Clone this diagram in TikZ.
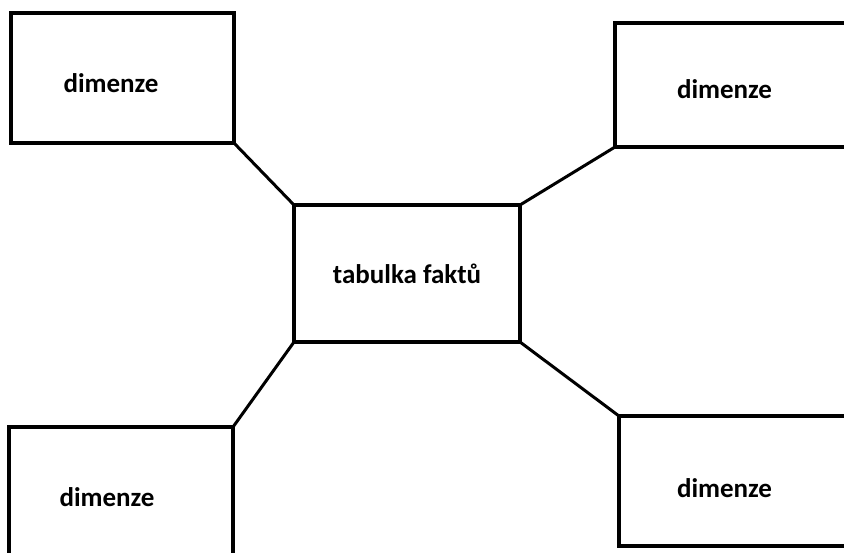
\documentclass[tikz,border=0pt]{standalone}
\usepackage{fontspec}
\setmainfont{Carlito}

\begin{document}
\begin{tikzpicture}[x=1pt, y=-1pt,
	box/.style={draw, line width=3.2pt, inner sep=0pt, outer sep=0pt},
	lbl/.style={font=\fontsize{27}{32}\selectfont\bfseries, inner sep=0pt},
	link/.style={line width=3pt, line cap=round}]
	\clip (0,0) rectangle (844,552);
	\fill[white] (0,0) rectangle (844,552);

	\node[box, lbl, minimum width=226, minimum height=137] (fakty) at (407,273.5) {tabulka faktů};

	\node[box, minimum width=223, minimum height=130] (dimA) at (122.5,78) {};
	\node[lbl] (txtA) at (111,83) {dimenze};

	\node[box, minimum width=255, minimum height=124] (dimB) at (742.5,85) {};
	\node[lbl] (txtB) at (724.5,89.5) {dimenze};

	\node[box, minimum width=224, minimum height=153] (dimC) at (121,503.5) {};
	\node[lbl] (txtC) at (107,497.5) {dimenze};

	\node[box, minimum width=251, minimum height=130] (dimD) at (744.5,481) {};
	\node[lbl] (txtD) at (724.5,488.5) {dimenze};

	\draw[link] (dimA.south east) -- (fakty.north west);
	\draw[link] (fakty.north east) -- (dimB.south west);
	\draw[link] (fakty.south west) -- (dimC.north east);
	\draw[link] (fakty.south east) -- (dimD.north west);
\end{tikzpicture}
\end{document}
